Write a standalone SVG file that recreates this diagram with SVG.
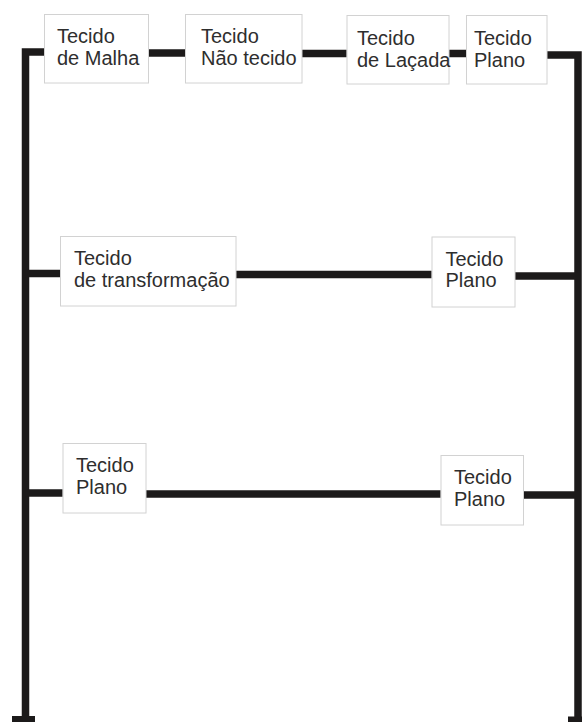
<svg xmlns="http://www.w3.org/2000/svg" width="582" height="722" viewBox="0 0 582 722">
<style>
.c{stroke:#1c1a1a;stroke-width:7.5;fill:none;stroke-linejoin:miter;stroke-linecap:butt}
.f{fill:#1c1a1a}
.b{fill:#ffffff;stroke:#d2d2d2;stroke-width:1}
.t{font-family:"Liberation Sans",Arial,sans-serif;font-size:20px;fill:#2e2e2e}
</style>
<rect width="582" height="722" fill="#ffffff"/>
<g id="connectors">
<path class="c" d="M25.5 722 V52 H44"/>
<path class="c" d="M547 55 H578 V722"/>
<path class="c" d="M148.7 53 H185"/>
<path class="c" d="M302 53.5 H346.7"/>
<path class="c" d="M449 53.5 H466"/>
<path class="c" d="M25.5 273.5 H60"/>
<path class="c" d="M236 274.5 H431.7"/>
<path class="c" d="M515 276 H578"/>
<path class="c" d="M25.5 493 H62.7"/>
<path class="c" d="M146 494 H440.7"/>
<path class="c" d="M523.3 495 H578"/>
<rect class="f" x="12" y="716" width="23" height="6"/>
<rect class="f" x="568" y="716.5" width="14" height="5.5"/>
</g>
<g id="n1">
<rect class="b" x="44.5" y="14.5" width="104" height="68.5"/>
<text class="t" x="57" y="43">Tecido</text>
<text class="t" x="57" y="64.5">de Malha</text>
</g>
<g id="n2">
<rect class="b" x="185.5" y="14.5" width="116.5" height="68.5"/>
<text class="t" x="201" y="43">Tecido</text>
<text class="t" x="201" y="64.5">Não tecido</text>
</g>
<g id="n3">
<rect class="b" x="347" y="15.5" width="102" height="68.5"/>
<text class="t" x="357" y="44.5">Tecido</text>
<text class="t" x="357" y="67">de Laçada</text>
</g>
<g id="n4">
<rect class="b" x="466.5" y="15.5" width="80.5" height="68.5"/>
<text class="t" x="474" y="45">Tecido</text>
<text class="t" x="474" y="67">Plano</text>
</g>
<g id="n5">
<rect class="b" x="60.5" y="236.5" width="175.5" height="69.5"/>
<text class="t" x="74" y="265">Tecido</text>
<text class="t" x="74" y="286.5">de transformação</text>
</g>
<g id="n6">
<rect class="b" x="432" y="237" width="83" height="70"/>
<text class="t" x="445.5" y="265.5">Tecido</text>
<text class="t" x="445.5" y="287">Plano</text>
</g>
<g id="n7">
<rect class="b" x="63" y="443.5" width="83" height="69.5"/>
<text class="t" x="76" y="471.5">Tecido</text>
<text class="t" x="76" y="494">Plano</text>
</g>
<g id="n8">
<rect class="b" x="441" y="455.5" width="82.5" height="69.5"/>
<text class="t" x="454" y="483.5">Tecido</text>
<text class="t" x="454" y="506">Plano</text>
</g>
</svg>
